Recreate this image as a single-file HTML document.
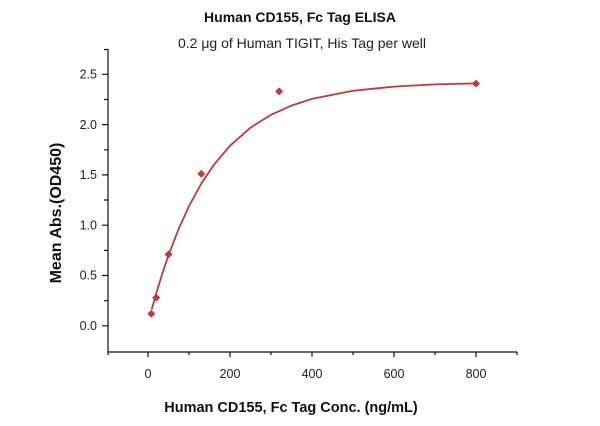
<!DOCTYPE html>
<html><head><meta charset="utf-8"><style>html,body{margin:0;padding:0;background:#fff}</style></head>
<body>
<svg width="600" height="421" xmlns="http://www.w3.org/2000/svg" font-family="Liberation Sans, DejaVu Sans, sans-serif">
<rect width="600" height="421" fill="#fff"/>
<text x="300" y="22" text-anchor="middle" font-size="14" font-weight="bold" fill="#111">Human CD155, Fc Tag ELISA</text>
<text x="302" y="48" text-anchor="middle" font-size="14" fill="#222">0.2 μg of Human TIGIT, His Tag per well</text>
<g stroke="#111" stroke-width="1.2" fill="none">
<line x1="108" y1="49" x2="108" y2="352"/>
<line x1="108" y1="352" x2="517" y2="352"/>
<path d="M102 74.3H108M102 124.6H108M102 174.9H108M102 225.2H108M102 275.5H108M102 325.8H108M104 99.5H108M104 149.8H108M104 200H108M104 250.4H108M104 300.7H108M104 49.5H108"/>
<path d="M148 352V357M230 352V357M312 352V357M394 352V357M476 352V357M189 352V355M271 352V355M353 352V355M435 352V355M517 352V355M108 352V355"/>
</g>
<g font-size="12.5" fill="#222" text-anchor="end">
<text x="97" y="78.5">2.5</text><text x="97" y="128.8">2.0</text><text x="97" y="179">1.5</text>
<text x="97" y="229.4">1.0</text><text x="97" y="279.7">0.5</text><text x="97" y="330">0.0</text>
</g>
<g font-size="12.5" fill="#222" text-anchor="middle">
<text x="148" y="378">0</text><text x="230" y="378">200</text><text x="312" y="378">400</text><text x="394" y="378">600</text><text x="476" y="378">800</text>
</g>
<text x="291" y="412" text-anchor="middle" font-size="14.5" font-weight="bold" fill="#111">Human CD155, Fc Tag Conc. (ng/mL)</text>
<text transform="translate(61,213) rotate(-90)" text-anchor="middle" font-size="16" font-weight="bold" fill="#111">Mean Abs.(OD450)</text>
<polyline fill="none" stroke="#c0393b" stroke-width="1.8" points="151.7,309.5 156.2,293.4 162.4,273.4 168.5,255.2 178.8,228.6 189,206.1 201.3,183.6 213.6,165.2 230,145.8 250.5,127.7 271,114.8 291.5,105.6 312,98.9 353,90.8 394,86.6 435,84.4 476,83.4"/>
<g fill="#c0393b">
<path d="M151.3,309.7l4,4l-4,4l-4,-4z"/>
<path d="M156.2,293.6l4,4l-4,4l-4,-4z"/>
<path d="M168.5,250.4l4,4l-4,4l-4,-4z"/>
<path d="M201.3,169.9l4,4l-4,4l-4,-4z"/>
<path d="M279.2,87.4l4,4l-4,4l-4,-4z"/>
<path d="M476,79.6l4,4l-4,4l-4,-4z"/>
</g>
</svg>
</body></html>
